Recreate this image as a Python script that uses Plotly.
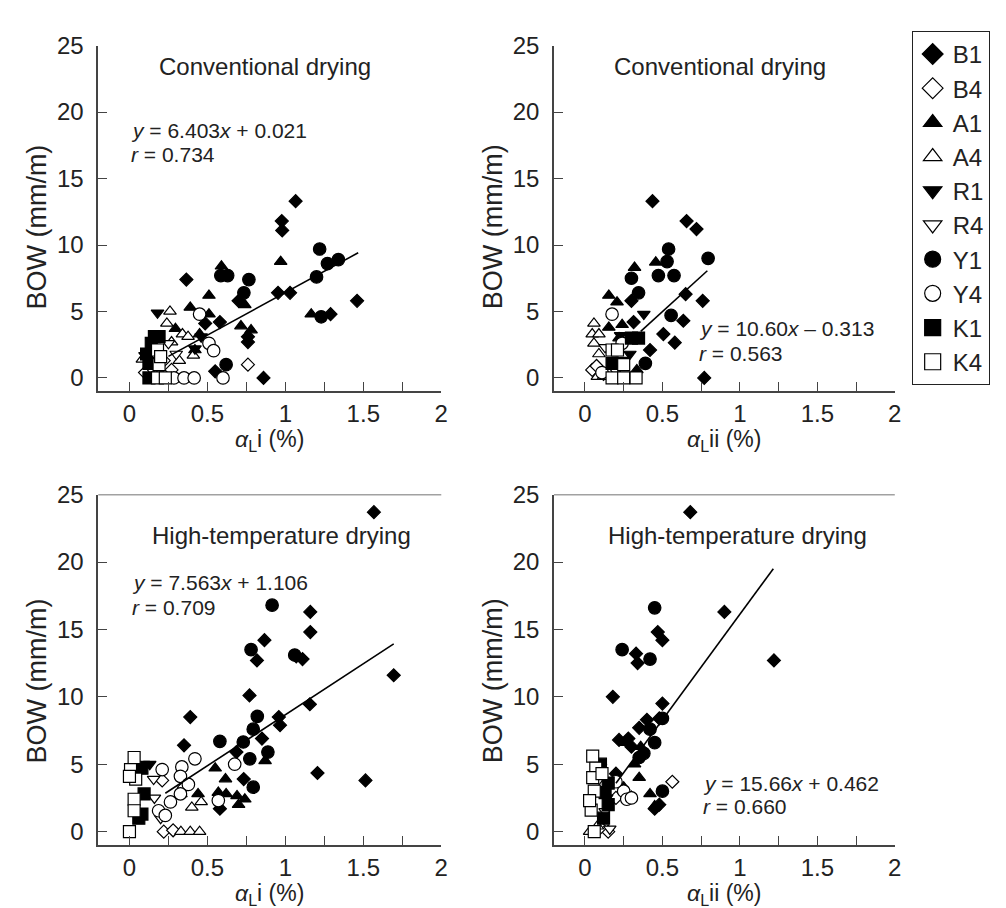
import plotly.graph_objects as go

# ---------------- data ----------------
SERIES = ["B1", "B4", "A1", "A4", "R1", "R4", "Y1", "Y4", "K1", "K4"]

# Conventional drying, alpha_L i
conv_i = {
    "B1": ([1.066, 0.977, 0.98, 0.365, 0.953, 1.03, 1.46, 1.29, 0.70, 0.58, 0.486, 0.76, 0.55, 0.86, 0.76],
           [13.3, 11.8, 11.1, 7.4, 6.4, 6.4, 5.8, 4.8, 5.8, 4.2, 4.1, 2.7, 0.5, 0.0, 3.1]),
    "B4": ([0.76, 0.27, 0.10, 0.22], [1.0, 0.6, 0.4, 1.3]),
    "A1": ([0.59, 0.97, 0.51, 0.39, 0.51, 0.715, 0.78, 1.166, 0.45, 0.295, 0.42, 0.74],
           [8.4, 8.75, 6.2, 5.3, 4.8, 3.9, 3.6, 4.8, 3.3, 3.7, 2.1, 5.5]),
    "A4": ([0.26, 0.24, 0.34, 0.376, 0.27, 0.32, 0.41, 0.083], [5.0, 4.1, 3.3, 3.1, 2.7, 1.3, 1.7, 1.4]),
    "R1": ([0.18, 0.146, 0.10, 0.46, 0.42], [4.9, 2.8, 1.7, 3.1, 2.2]),
    "R4": ([0.25, 0.15, 0.30], [2.6, 0.5, 1.8]),
    "Y1": ([1.22, 1.27, 1.34, 1.20, 0.586, 0.63, 0.766, 0.734, 1.23, 0.62],
           [9.7, 8.6, 8.9, 7.6, 7.7, 7.7, 7.4, 6.4, 4.6, 1.0]),
    "Y4": ([0.45, 0.51, 0.54, 0.60, 0.285, 0.35, 0.415], [4.8, 2.6, 2.05, 0.0, 0.0, 0.0, 0.0]),
    "K1": ([0.19, 0.16, 0.11, 0.125, 0.125, 0.14], [3.1, 3.1, 1.8, 1.1, 0.0, 2.6]),
    "K4": ([0.18, 0.19, 0.18, 0.23, 0.20], [2.1, 1.0, 0.0, 0.0, 1.6]),
}

# Conventional drying, alpha_L ii
conv_ii = {
    "B1": ([0.436, 0.656, 0.72, 0.65, 0.76, 0.635, 0.506, 0.58, 0.42, 0.77, 0.30, 0.314],
           [13.3, 11.8, 11.2, 6.3, 5.8, 4.3, 3.3, 2.65, 2.1, 0.0, 5.8, 4.2]),
    "B4": ([0.047, 0.075, 0.12], [0.6, 0.9, 0.3]),
    "A1": ([0.32, 0.457, 0.154, 0.207, 0.154, 0.24, 0.335, 0.22], [8.3, 8.7, 6.2, 5.7, 3.8, 4.0, 0.6, 3.0]),
    "A4": ([0.058, 0.047, 0.09, 0.058, 0.09, 0.08, 0.12], [4.1, 3.3, 3.3, 2.6, 1.8, 0.1, 0.1]),
    "R1": ([0.23, 0.29, 0.38], [3.2, 1.8, 4.8]),
    "R4": ([0.13, 0.20], [2.3, 0.5]),
    "Y1": ([0.54, 0.795, 0.53, 0.474, 0.575, 0.30, 0.346, 0.556, 0.39],
           [9.7, 9.0, 8.75, 7.7, 7.7, 7.5, 6.4, 4.7, 1.1]),
    "Y4": ([0.175, 0.24, 0.11], [4.8, 2.6, 0.4]),
    "K1": ([0.346, 0.175, 0.24, 0.30], [3.0, 1.1, 1.1, 3.0]),
    "K4": ([0.175, 0.25, 0.175, 0.25, 0.33, 0.21], [2.1, 1.0, 0.0, 0.0, 0.0, 2.1]),
}

# High-temperature drying, alpha_L i
ht_i = {
    "B1": ([1.568, 1.16, 1.16, 0.866, 0.818, 1.07, 1.11, 1.695, 0.77, 1.157, 0.958, 0.966, 0.39, 0.85,
            0.35, 0.686, 1.206, 1.514, 0.733, 0.58],
           [23.7, 16.3, 14.8, 14.2, 12.7, 13.0, 12.8, 11.6, 10.1, 9.45, 8.5, 7.9, 8.5, 6.9,
            6.4, 5.9, 4.35, 3.8, 3.9, 1.7]),
    "B4": ([0.22, 0.28, 0.21, 0.35], [0.0, 0.1, 3.8, 3.3]),
    "A1": ([0.55, 0.616, 0.87, 0.62, 0.57, 0.69, 0.70, 0.74, 0.44, 0.33],
           [4.7, 3.9, 5.25, 2.8, 2.9, 2.65, 2.0, 2.4, 2.8, 2.8]),
    "A4": ([0.33, 0.39, 0.45, 0.40, 0.46], [0.0, 0.0, 0.0, 1.8, 2.2]),
    "R1": ([0.09, 0.13], [5.0, 5.0]),
    "R4": ([0.155, 0.16, 0.20], [3.9, 2.5, 1.0]),
    "Y1": ([0.915, 0.78, 1.06, 0.82, 0.794, 0.73, 0.58, 0.888, 0.772, 0.794],
           [16.8, 13.5, 13.1, 8.55, 7.6, 6.65, 6.7, 5.9, 5.4, 3.3]),
    "Y4": ([0.21, 0.336, 0.327, 0.378, 0.263, 0.327, 0.187, 0.57, 0.675, 0.42, 0.23],
           [4.6, 4.8, 4.1, 3.5, 2.2, 2.8, 1.55, 2.3, 5.0, 5.4, 1.2]),
    "K1": ([0.08, 0.094, 0.08, 0.06], [4.7, 2.8, 1.3, 1.0]),
    "K4": ([0.03, 0.007, 0.04, 0.03, 0.03, 0.0, 0.0], [5.5, 4.6, 3.9, 2.4, 1.55, 0.0, 4.1]),
}

# High-temperature drying, alpha_L ii
ht_ii = {
    "B1": ([0.68, 0.90, 1.22, 0.33, 0.34, 0.47, 0.50, 0.18, 0.50, 0.48, 0.40, 0.35, 0.28, 0.22,
            0.30, 0.48, 0.45, 0.20],
           [23.7, 16.3, 12.7, 13.2, 12.5, 14.8, 14.2, 10.0, 9.5, 8.4, 8.3, 7.7, 6.9, 6.8,
            6.3, 2.0, 1.7, 4.3]),
    "B4": ([0.564, 0.15, 0.20, 0.10], [3.7, 0.0, 2.5, 0.3]),
    "A1": ([0.26, 0.36, 0.32, 0.42, 0.45, 0.30, 0.25, 0.35], [6.6, 6.3, 5.0, 2.8, 1.9, 2.6, 3.3, 4.0]),
    "A4": ([0.05, 0.08, 0.12, 0.03], [0.0, 0.4, 3.5, 0.0]),
    "R1": ([0.14, 0.10], [2.5, 4.8]),
    "R4": ([0.16, 0.13], [0.2, 1.5]),
    "Y1": ([0.45, 0.24, 0.42, 0.50, 0.45, 0.38, 0.42, 0.50, 0.35],
           [16.6, 13.5, 12.8, 8.4, 6.6, 5.8, 7.6, 3.0, 5.5]),
    "Y4": ([0.25, 0.27, 0.20, 0.30], [3.0, 2.4, 3.7, 2.5]),
    "K1": ([0.10, 0.15, 0.13, 0.15, 0.12], [5.0, 3.6, 2.9, 2.0, 1.0]),
    "K4": ([0.05, 0.07, 0.05, 0.06, 0.04, 0.06, 0.11, 0.03], [5.6, 4.7, 4.0, 3.0, 1.6, 0.0, 4.3, 2.3]),
}

# regression lines: slope, intercept, x-range
fits = [
    (6.403, 0.021, [0.25, 1.467]),
    (10.60, -0.313, [0.36, 0.79]),
    (7.563, 1.106, [0.23, 1.695]),
    (15.66, 0.462, [0.20, 1.216]),
]
eq_texts = [
    ("<i>y</i> = 6.403<i>x</i> + 0.021", "<i>r</i> = 0.734"),
    ("<i>y</i> = 10.60<i>x</i> – 0.313", "<i>r</i> = 0.563"),
    ("<i>y</i> = 7.563<i>x</i> + 1.106", "<i>r</i> = 0.709"),
    ("<i>y</i> = 15.66<i>x</i> + 0.462", "<i>r</i> = 0.660"),
]
eq_pos = [(0.0, 18.6, 16.8), (0.726, 3.7, 1.85), (0.006, 18.5, 16.6), (0.75, 3.6, 1.9)]
titles = ["Conventional drying", "Conventional drying", "High-temperature drying", "High-temperature drying"]
title_pos = [(0.177, 23.4), (0.177, 23.4), (0.133, 22.0), (0.133, 22.0)]
x_titles = ["i (%)", "ii (%)", "i (%)", "ii (%)"]

# ---------------- styles ----------------
FONT = "Liberation Sans, Arial, sans-serif"
TXT = "#222"
style = {
    "B1": ("diamond", True, 10), "B4": ("diamond", False, 10),
    "A1": ("triangle-up", True, 11), "A4": ("triangle-up", False, 11),
    "R1": ("triangle-down", True, 11), "R4": ("triangle-down", False, 11),
    "Y1": ("circle", True, 12.5), "Y4": ("circle", False, 12.5),
    "K1": ("square", True, 12), "K4": ("square", False, 12),
}

fig = go.Figure()
panels = [conv_i, conv_ii, ht_i, ht_ii]
axes = [("x", "y"), ("x2", "y2"), ("x3", "y3"), ("x4", "y4")]

for p, (data, (xa, ya)) in enumerate(zip(panels, axes)):
    for s in SERIES:
        sym, filled, size = style[s]
        xs, ys = data[s]
        fig.add_trace(go.Scatter(
            x=xs, y=ys, mode="markers", name=s, showlegend=False,
            xaxis=xa, yaxis=ya,
            marker=dict(symbol=sym, size=size, color="black" if filled else "white",
                        line=dict(color="black", width=1.2)),
        ))
    m, b, xr = fits[p]
    fig.add_trace(go.Scatter(x=xr, y=[m * v + b for v in xr], mode="lines", showlegend=False,
                             xaxis=xa, yaxis=ya, line=dict(color="black", width=1.6)))

# legend-only entries (larger symbols, as in the reference key)
for s in SERIES:
    sym, filled, _ = style[s]
    fig.add_trace(go.Scatter(
        x=[None], y=[None], mode="markers", name=s, showlegend=True, xaxis="x", yaxis="y",
        marker=dict(symbol=sym, size=16, color="black" if filled else "white",
                    line=dict(color="black", width=1.2)),
    ))

# ---------------- layout ----------------
W, H = 1006, 908
xdom = [[90.9 / W, 436.3 / W], [549.8 / W, 893.0 / W]]
ydom = [[1 - 375 / H, 1 - 24 / H], [1 - 836 / H, 1 - 480 / H]]

axis_common = dict(showline=True, linecolor="#444", linewidth=1.5, ticks="inside", ticklen=9,
                   tickwidth=1.2, tickcolor="#444", showgrid=False, zeroline=False,
                   tickfont=dict(family=FONT, size=24, color=TXT))

layout = dict(width=W, height=H, margin=dict(l=0, r=0, t=0, b=0),
              paper_bgcolor="white", plot_bgcolor="white", font=dict(family=FONT, color=TXT))
for i in range(4):
    col, row = i % 2, i // 2
    kx = "xaxis" if i == 0 else f"xaxis{i+1}"
    ky = "yaxis" if i == 0 else f"yaxis{i+1}"
    layout[kx] = dict(axis_common, domain=xdom[col], range=[-0.2, 2.0],
                      anchor=axes[i][1],
                      tickvals=[0, 0.25, 0.5, 0.75, 1, 1.25, 1.5, 1.75, 2],
                      ticktext=["0", "", "0.5", "", "1", "", "1.5", "", "2"])
    layout[ky] = dict(axis_common, domain=ydom[row], range=[-1, 25], anchor=axes[i][0],
                      tickvals=[0, 5, 10, 15, 20, 25], ticklabelstandoff=8)

annots = []
shapes = []
for i in range(4):
    col, row = i % 2, i // 2
    xa, ya = axes[i]
    tx, ty = title_pos[i]
    annots.append(dict(x=tx, y=ty, xref=xa, yref=ya, text=titles[i], showarrow=False,
                       xanchor="left", yanchor="middle", font=dict(family=FONT, size=24, color=TXT)))
    ex, ey1, ey2 = eq_pos[i]
    annots.append(dict(x=ex, y=ey1, xref=xa, yref=ya, text=eq_texts[i][0], showarrow=False,
                       xanchor="left", yanchor="middle", font=dict(family=FONT, size=21, color=TXT)))
    annots.append(dict(x=ex, y=ey2, xref=xa, yref=ya, text=eq_texts[i][1], showarrow=False,
                       xanchor="left", yanchor="middle", font=dict(family=FONT, size=21, color=TXT)))
    # x-axis title
    cx = (xdom[col][0] + xdom[col][1]) / 2
    ypx = 425 + row * 461
    annots.append(dict(x=cx, y=1 - ypx / H, xref="paper", yref="paper",
                       text="<i>α</i><sub>L</sub>" + x_titles[i], showarrow=False,
                       xanchor="center", yanchor="middle", font=dict(family=FONT, size=23, color=TXT)))
    # y-axis title
    yx = (29 + (xdom[col][0] * W - 90.9)) / W
    ycen = 208 + row * 461
    annots.append(dict(x=yx, y=1 - ycen / H, xref="paper", yref="paper", text="BOW (mm/m)",
                       textangle=-90, showarrow=False, xanchor="center", yanchor="middle",
                       font=dict(family=FONT, size=27, color=TXT)))
    if row == 1:
        # top border line of the lower panels
        shapes.append(dict(type="line", xref=f"{xa} domain", yref=ya, x0=0, x1=1, y0=25, y1=25,
                           line=dict(color="#444", width=1.5)))

layout["annotations"] = annots
layout["shapes"] = shapes
layout["legend"] = dict(x=910 / W, y=1 - 9 / H, xanchor="left", yanchor="top",
                        bordercolor="#222", borderwidth=1, bgcolor="white",
                        font=dict(family=FONT, size=24, color=TXT), tracegroupgap=0,
                        itemwidth=30)
layout["showlegend"] = True
fig.update_layout(**layout)

fig.write_html("out.html")
